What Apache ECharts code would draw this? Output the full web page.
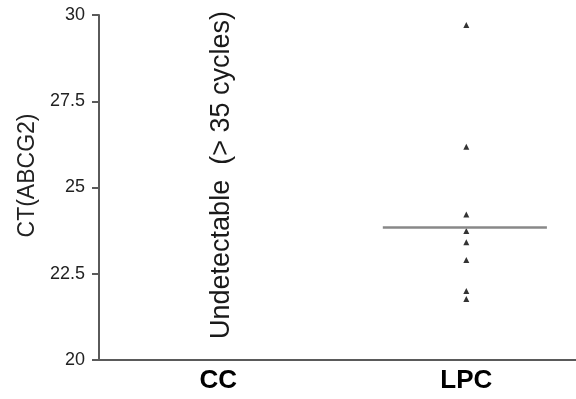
<!DOCTYPE html>
<html>
<head>
<meta charset="utf-8">
<script src="https://cdn.jsdelivr.net/npm/echarts@6/dist/echarts.min.js"></script>
<style>html,body{margin:0;padding:0;background:#fff;}#c{width:576px;height:399px;}</style>
</head>
<body>
<div id="c"></div>
<script>
// Data
var categories = ['CC', 'LPC'];
var categoryPositions = [0.25, 0.77];
var lpcValues = [29.71, 26.18, 24.22, 23.74, 23.41, 22.90, 22.0, 21.77];
var lpcMedian = 23.86;
var medianSpan = [0.595, 0.939];
var yTicks = [20, 22.5, 25, 27.5, 30];
var annotation = 'Undetectable  (> 35 cycles)';

var chart = echarts.init(document.getElementById('c'), null, {renderer: 'canvas'});
var scatterData = lpcValues.map(function (v) { return [categoryPositions[1], v]; });
var option = {
  animation: false,
  grid: {left: 99, right: 0, top: 15, bottom: 39},
  xAxis: {
    type: 'value', min: 0, max: 1,
    splitLine: {show: false},
    axisLine: {lineStyle: {color: '#5a5a5a', width: 2}},
    axisTick: {show: false},
    axisLabel: {
      customValues: categoryPositions,
      margin: 8,
      formatter: function (v) {
        var best = 0;
        for (var i = 0; i < categoryPositions.length; i++) {
          if (Math.abs(categoryPositions[i] - v) < Math.abs(categoryPositions[best] - v)) best = i;
        }
        return categories[best];
      },
      fontFamily: 'Liberation Sans', fontWeight: 'bold', fontSize: 26, color: '#000'
    }
  },
  yAxis: {
    type: 'value', min: 20, max: 30, interval: 2.5,
    name: 'CT(ABCG2)', nameLocation: 'middle', nameGap: 60,
    nameTextStyle: {fontFamily: 'Liberation Sans', fontSize: 23, color: '#222', padding: [0, 0, 0, 24]},
    splitLine: {show: false},
    axisLine: {show: true, lineStyle: {color: '#5a5a5a', width: 2}},
    axisTick: {show: true, length: 7, lineStyle: {color: '#5a5a5a', width: 2}},
    axisLabel: {
      margin: 14,
      fontFamily: 'Liberation Sans', fontSize: 18, color: '#222',
      formatter: function (v) { return String(v); }
    }
  },
  series: [
    {
      type: 'scatter',
      data: scatterData,
      symbol: 'triangle', symbolSize: 6,
      itemStyle: {color: '#000'},
      markLine: {
        silent: true, symbol: 'none',
        lineStyle: {color: '#888', width: 2.5, type: 'solid'},
        label: {show: false},
        data: [[{coord: [medianSpan[0], lpcMedian]}, {coord: [medianSpan[1], lpcMedian]}]]
      }
    }
  ],
  graphic: [
    {
      type: 'text', x: 222, y: 175, rotation: Math.PI / 2,
      style: {text: annotation, fontFamily: 'Liberation Sans', fontSize: 27, fill: '#1a1a1a',
              align: 'center', verticalAlign: 'middle'}
    }
  ]
};
chart.setOption(option);
</script>
</body>
</html>
